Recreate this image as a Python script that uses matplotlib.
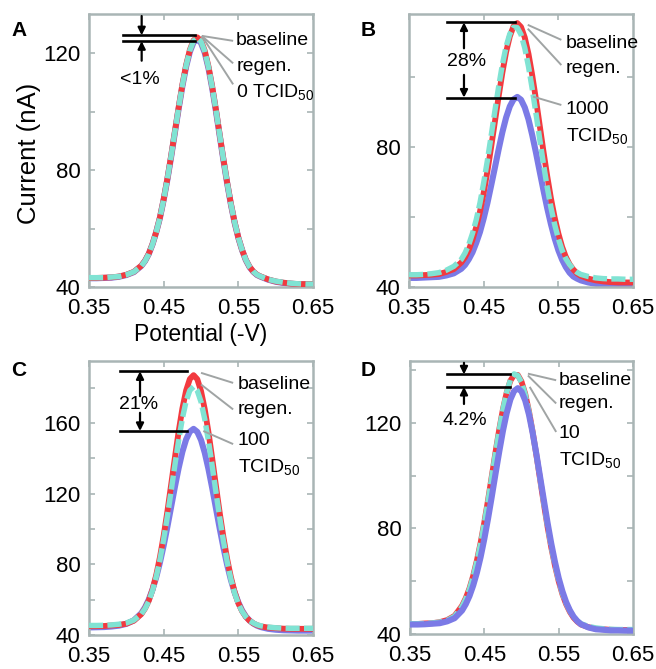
"""
square wave voltammograms: baseline, regenerated and virus-exposed sensor
"""

import matplotlib
matplotlib.use('Agg')
import matplotlib.pyplot as plt

plt.rcParams['font.family'] = ['Liberation Sans', 'DejaVu Sans']
plt.rcParams['mathtext.fontset'] = 'custom'
plt.rcParams['mathtext.rm'] = 'Liberation Sans'

# potential grid (-V)
potential = [0.35, 0.36, 0.37, 0.38, 0.39, 0.40, 0.41, 0.42, 0.425, 0.43, 0.435,
             0.44, 0.445, 0.45, 0.455, 0.46, 0.465, 0.47, 0.475, 0.48, 0.485,
             0.49, 0.495, 0.50, 0.505, 0.51, 0.515, 0.52, 0.525, 0.53, 0.535,
             0.54, 0.545, 0.55, 0.555, 0.56, 0.565, 0.57, 0.575, 0.58, 0.59,
             0.60, 0.61, 0.62, 0.63, 0.64, 0.65]

# panel A, 0 TCID50
a_baseline = [43.1, 43.1, 43.2, 43.3, 43.6, 44.2, 45.2, 47.3, 49.0, 51.4, 54.7,
              58.9, 63.9, 70.1, 77.2, 85.0, 93.3, 101.5, 109.3, 116.0, 121.2,
              124.5, 125.5, 124.3, 120.9, 115.5, 108.6, 100.7, 92.2, 83.8, 75.8,
              68.5, 62.2, 56.9, 52.7, 49.3, 46.9, 45.3, 44.2, 43.6, 42.6,
              41.9, 41.5, 41.2, 41.0, 41.0, 41.0]
a_regen = [43.2, 43.2, 43.2, 43.4, 43.6, 44.2, 45.2, 47.2, 48.9, 51.3, 54.6,
           58.8, 63.8, 70.0, 77.1, 84.9, 93.2, 101.4, 109.1, 115.8, 121.0,
           124.3, 125.3, 124.1, 120.7, 115.3, 108.4, 100.6, 92.1, 83.7, 75.7,
           68.4, 62.2, 56.9, 52.7, 49.3, 46.9, 45.3, 44.2, 43.6, 42.6,
           42.0, 41.6, 41.3, 41.1, 41.0, 41.0]
a_virus = [43.0, 43.0, 43.1, 43.2, 43.5, 44.1, 45.1, 47.2, 48.9, 51.3, 54.6,
           58.8, 63.7, 69.9, 76.9, 84.6, 92.9, 101.0, 108.7, 115.4, 120.5,
           123.8, 124.8, 123.6, 120.2, 114.9, 108.0, 100.2, 91.8, 83.4, 75.5,
           68.3, 62.0, 56.8, 52.6, 49.2, 46.8, 45.2, 44.1, 43.5, 42.5,
           41.8, 41.4, 41.1, 40.9, 40.9, 40.9]

# panel B, 1000 TCID50
b_baseline = [43.3, 43.3, 43.4, 43.5, 43.7, 44.3, 45.1, 47.0, 48.5, 50.6, 53.5,
              57.1, 61.5, 66.9, 73.1, 80.0, 87.2, 94.4, 101.2, 107.1, 111.6,
              114.5, 115.4, 114.3, 111.3, 106.6, 100.5, 93.6, 86.2, 78.8, 71.8,
              65.4, 59.9, 55.3, 51.5, 48.6, 46.5, 45.0, 43.9, 43.2, 42.4,
              41.9, 41.6, 41.4, 41.3, 41.3, 41.3]
b_regen = [43.5, 43.5, 43.6, 43.8, 44.1, 44.8, 45.9, 47.9, 49.7, 52.1, 55.3,
           59.2, 64.0, 69.8, 76.2, 83.2, 90.3, 97.2, 103.5, 108.7, 112.3,
           114.2, 114.1, 112.1, 108.3, 103.0, 96.6, 89.6, 82.3, 75.2, 68.6,
           62.8, 57.9, 53.8, 50.5, 48.1, 46.4, 45.1, 44.2, 43.6, 43.0,
           42.6, 42.4, 42.3, 42.3, 42.2, 42.2]
b_virus = [42.6, 42.6, 42.7, 42.8, 42.9, 43.3, 43.9, 45.2, 46.3, 47.9, 49.9,
           52.6, 55.7, 59.6, 64.0, 69.0, 74.1, 79.3, 84.2, 88.4, 91.6,
           93.6, 94.3, 93.5, 91.3, 87.9, 83.4, 78.4, 73.0, 67.7, 62.6,
           58.0, 53.9, 50.5, 47.8, 45.7, 44.1, 43.0, 42.4, 41.9, 41.3,
           40.9, 40.7, 40.5, 40.4, 40.4, 40.4]

# panel C, 100 TCID50
c_baseline = [45.0, 45.0, 45.1, 45.4, 45.7, 46.4, 48.1, 51.8, 55.0, 59.4, 65.7,
              73.9, 84.1, 96.3, 110.1, 125.1, 140.4, 155.1, 168.1, 178.3, 184.8,
              187.0, 184.7, 178.0, 167.7, 154.6, 139.8, 124.3, 109.2, 95.3, 83.0,
              72.7, 64.4, 58.0, 53.5, 50.3, 48.1, 46.6, 45.6, 44.9, 44.2,
              43.9, 43.6, 43.5, 43.5, 43.5, 43.5]
c_regen = [45.4, 45.4, 45.5, 45.7, 46.1, 46.8, 48.4, 51.9, 54.9, 59.1, 65.1,
           73.0, 82.6, 94.2, 107.3, 121.6, 136.2, 150.1, 162.5, 172.2, 178.4,
           180.4, 178.2, 171.9, 162.1, 149.6, 135.5, 120.8, 106.4, 93.1, 81.4,
           71.6, 63.7, 57.6, 53.4, 50.3, 48.1, 46.8, 45.8, 45.2, 44.5,
           44.1, 43.9, 43.8, 43.8, 43.8, 43.8]
c_virus = [44.3, 44.4, 44.5, 44.8, 45.3, 46.3, 48.3, 52.3, 55.6, 60.0, 65.7,
           72.7, 81.1, 90.7, 101.4, 112.6, 123.8, 134.4, 143.6, 150.6, 155.0,
           156.6, 154.9, 150.3, 143.1, 133.8, 123.1, 111.7, 100.3, 89.5, 79.7,
           71.2, 64.1, 58.4, 53.9, 50.5, 48.2, 46.5, 45.3, 44.5, 43.5,
           43.0, 42.7, 42.6, 42.5, 42.5, 42.5]

# panel D, 10 TCID50
d_baseline = [43.8, 43.8, 44.0, 44.1, 44.5, 45.3, 46.9, 50.7, 53.6, 57.3, 62.1,
              67.9, 74.6, 82.4, 90.8, 99.8, 108.9, 117.5, 125.2, 131.5, 136.0,
              138.2, 138.2, 135.7, 131.0, 124.5, 116.6, 107.8, 98.6, 89.4, 80.7,
              72.8, 65.9, 60.0, 55.1, 51.3, 48.4, 46.2, 44.7, 43.6, 42.6,
              42.0, 41.8, 41.6, 41.5, 41.5, 41.5]
d_regen = [43.9, 43.9, 44.0, 44.2, 44.5, 45.2, 46.7, 50.4, 53.3, 57.0, 61.8,
           67.6, 74.3, 82.1, 90.5, 99.6, 108.7, 117.4, 125.2, 131.6, 136.3,
           138.6, 138.0, 135.4, 130.8, 124.3, 116.5, 107.8, 98.7, 89.6, 81.0,
           73.1, 66.2, 60.3, 55.4, 51.6, 48.7, 46.5, 45.0, 43.9, 42.9,
           42.3, 42.0, 41.8, 41.7, 41.7, 41.7]
d_virus = [43.6, 43.6, 43.7, 43.9, 44.1, 44.8, 46.0, 48.9, 51.3, 54.4, 58.4,
           63.3, 69.2, 76.1, 83.8, 92.1, 100.7, 109.1, 117.0, 123.7, 128.9,
           132.1, 133.2, 131.9, 128.5, 123.2, 116.2, 108.2, 99.5, 90.8, 82.2,
           74.3, 67.3, 61.2, 56.2, 52.1, 49.0, 46.6, 44.9, 43.7, 42.5,
           41.8, 41.6, 41.4, 41.4, 41.3, 41.3]

x_ticks = [0.35, 0.45, 0.55, 0.65]
x_labels = ['0.35', '0.45', '0.55', '0.65']

panel_letters = ['A', 'B', 'C', 'D']
virus_labels = ['0 TCID$_\\mathregular{50}$', '1000', '100', '10']
percent_labels = ['<1%', '28%', '21%', '4.2%']
y_tops = [133.5, 118, 195, 143.5]
y_ticks = [[40, 60, 80, 100, 120], [40, 60, 80, 100],
           [40, 60, 80, 100, 120, 140, 160, 180], [40, 60, 80, 100, 120, 140]]
y_labels = [['40', '', '80', '', '120'], ['40', '', '80', ''],
            ['40', '', '80', '', '120', '', '160', ''],
            ['40', '', '80', '', '120', '']]

RED = '#f23a3f'
CYAN = '#80e3d3'
BLUE = '#7b7ae6'
FRAME = '#a9b5b5'
LEAD = '#a0a4a4'

fig = plt.figure(figsize=(6.56, 6.69), dpi=100)
boxes = [[0.1357, 0.5710, 0.3415, 0.4081],
         [0.6235, 0.5710, 0.3415, 0.4081],
         [0.1357, 0.0508, 0.3415, 0.4096],
         [0.6250, 0.0523, 0.3400, 0.4081]]
letter_pos = [(19, 31), (368, 30), (19, 370), (368, 370)]

curves = [(a_baseline, a_regen, a_virus), (b_baseline, b_regen, b_virus),
          (c_baseline, c_regen, c_virus), (d_baseline, d_regen, d_virus)]

axes = []
for i in range(4):
    ax = fig.add_axes(boxes[i])
    base, regen, virus = curves[i]
    # in D the virus trace sits on top
    vz = 5 if i == 3 else 2
    ax.plot(potential, virus, color=BLUE, lw=4.4, zorder=vz,
            solid_capstyle='round', solid_joinstyle='round')
    ax.plot(potential, base, color=RED, lw=4.2, zorder=3,
            solid_joinstyle='round')
    ax.plot(potential, regen, color=CYAN, lw=3.9, zorder=4,
            dashes=(2.6, 0.8))
    ax.set_xlim(0.35, 0.65)
    ax.set_ylim(40, y_tops[i])
    ax.set_xticks(x_ticks)
    ax.set_xticklabels(x_labels)
    ax.set_yticks(y_ticks[i])
    ax.set_yticklabels(y_labels[i])
    ax.tick_params(direction='in', length=4, width=1.2, color=FRAME,
                   labelsize=16, top=True, right=True)
    ax.tick_params(axis='x', pad=8)
    ax.tick_params(axis='y', pad=6)
    for sp in ax.spines.values():
        sp.set_color(FRAME)
        sp.set_linewidth(1.8)
    fig.text(letter_pos[i][0] / 656, 1 - letter_pos[i][1] / 669,
             panel_letters[i], fontsize=15, fontweight='bold',
             ha='center', va='center')
    axes.append(ax)


def bracket(ax, x0, x1, y_hi, y_lo, xa, up_tail, dn_tail, tail_above):
    # two black level lines and the arrows pointing at them
    ax.plot([x0, x1], [y_hi, y_hi], color='k', lw=1.9, zorder=6)
    ax.plot([x0, x1], [y_lo, y_lo], color='k', lw=1.9, zorder=6)
    ap = dict(arrowstyle='-|>', color='k', lw=1.6, mutation_scale=11,
              shrinkA=0, shrinkB=0)
    if tail_above:
        ax.annotate('', xy=(xa, y_hi), xytext=(xa, dn_tail), arrowprops=ap,
                    annotation_clip=False)
        ax.annotate('', xy=(xa, y_lo), xytext=(xa, up_tail), arrowprops=ap)
    else:
        ax.annotate('', xy=(xa, y_hi), xytext=(xa, up_tail), arrowprops=ap)
        ax.annotate('', xy=(xa, y_lo), xytext=(xa, dn_tail), arrowprops=ap)


def leaders(ax, segs):
    for (x0, y0, x1, y1) in segs:
        ax.plot([x0, x1], [y0, y1], color=LEAD, lw=1.4, zorder=7,
                solid_capstyle='butt')


fs = 14
# A
ax = axes[0]
bracket(ax, 0.395, 0.492, 126.2, 124.2, 0.4205, 117.5, 132.8, True)
ax.text(0.4176, 111.0, percent_labels[0], fontsize=fs, ha='center', va='center')
leaders(ax, [(0.501, 126.0, 0.543, 124.3), (0.501, 126.0, 0.543, 116.6),
             (0.501, 126.0, 0.543, 109.4)])
ax.text(0.547, 124.3, 'baseline', fontsize=fs, va='center')
ax.text(0.547, 115.5, 'regen.', fontsize=fs, va='center')
ax.text(0.547, 106.6, virus_labels[0], fontsize=fs, va='center')
ax.set_xlabel('Potential (-V)', fontsize=16.5, labelpad=3)
ax.set_ylabel('Current (nA)', fontsize=18.5)
ax.yaxis.set_label_coords(-0.215, 0.49)

# B
ax = axes[1]
bracket(ax, 0.401, 0.4915, 115.6, 94.1, 0.4236, 108.2, 100.6, False)
ax.text(0.4267, 104.4, percent_labels[1], fontsize=fs, ha='center', va='center')
leaders(ax, [(0.509, 114.9, 0.554, 110.6), (0.509, 113.8, 0.554, 103.4),
             (0.516, 94.4, 0.554, 92.0)])
ax.text(0.5600, 109.6, 'baseline', fontsize=fs, va='center')
ax.text(0.5600, 102.3, 'regen.', fontsize=fs, va='center')
ax.text(0.5600, 90.6, virus_labels[1], fontsize=fs, va='center')
ax.text(0.5600, 83.0, 'TCID$_\\mathregular{50}$', fontsize=fs, va='center')

# C
ax = axes[2]
bracket(ax, 0.3915, 0.4808, 189.2, 155.4, 0.4183, 175.1, 165.7, False)
ax.text(0.416, 170.4, percent_labels[2], fontsize=fs, ha='center', va='center')
leaders(ax, [(0.500, 188.3, 0.543, 182.6), (0.500, 181.7, 0.543, 167.6),
             (0.503, 155.4, 0.543, 148.0)])
ax.text(0.549, 181.7, 'baseline', fontsize=fs, va='center')
ax.text(0.549, 167.4, 'regen.', fontsize=fs, va='center')
ax.text(0.549, 149.8, virus_labels[2], fontsize=fs, va='center')
ax.text(0.549, 134.4, 'TCID$_\\mathregular{50}$', fontsize=fs, va='center')

# D
ax = axes[3]
bracket(ax, 0.400, 0.484, 138.4, 133.7, 0.4226, 127.2, 142.8, True)
ax.text(0.4235, 120.8, percent_labels[3], fontsize=fs, ha='center', va='center')
leaders(ax, [(0.5086, 138.7, 0.5466, 136.2), (0.5086, 138.0, 0.5466, 127.4),
             (0.511, 133.7, 0.5466, 116.6)])
ax.text(0.550, 136.2, 'baseline', fontsize=fs, va='center')
ax.text(0.550, 127.2, 'regen.', fontsize=fs, va='center')
ax.text(0.550, 116.0, virus_labels[3], fontsize=fs, va='center')
ax.text(0.550, 105.6, 'TCID$_\\mathregular{50}$', fontsize=fs, va='center')

fig.savefig('out.png', dpi=100)
